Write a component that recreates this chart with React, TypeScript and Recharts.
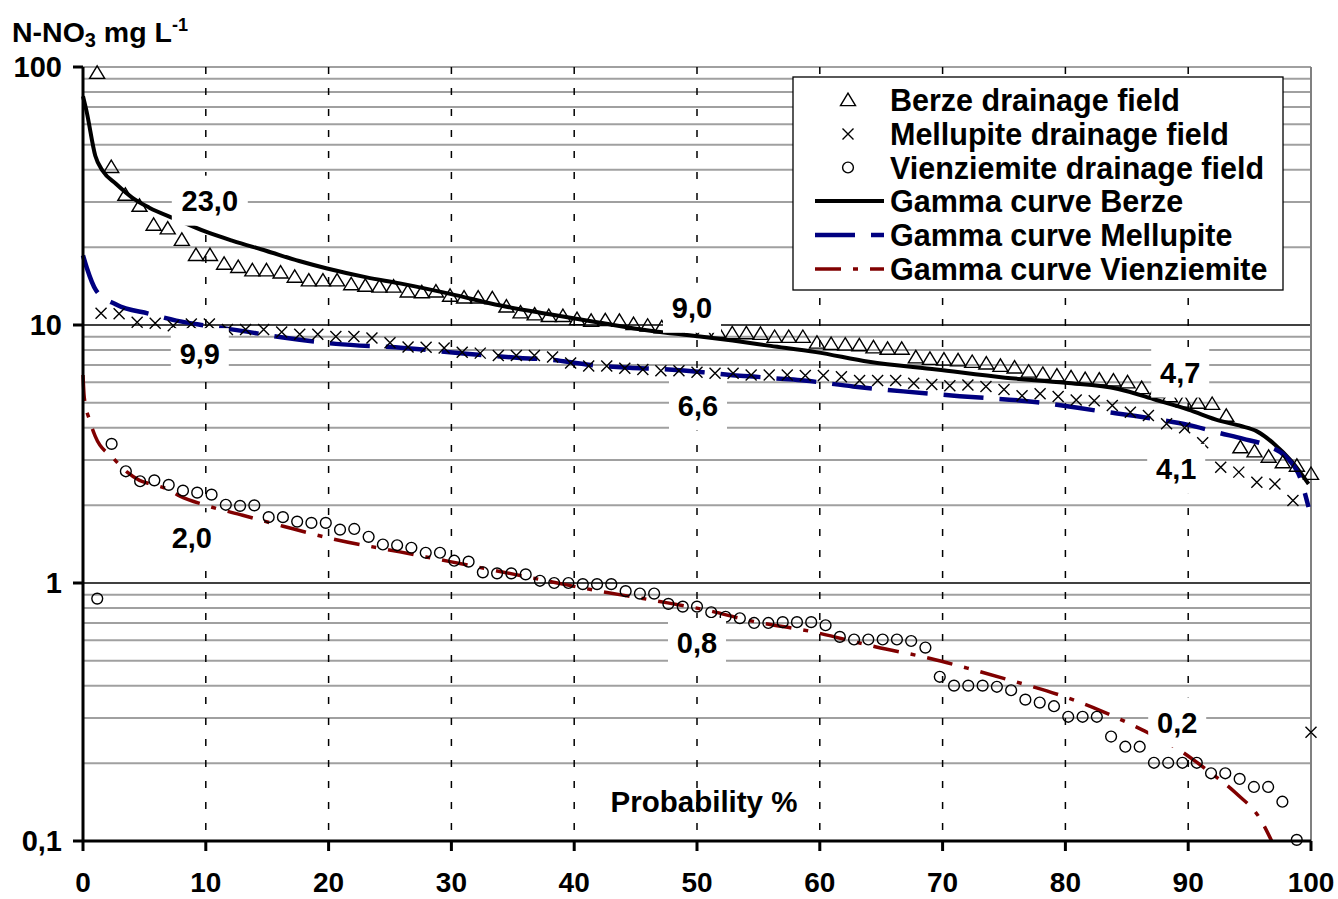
import React from 'react';
import { ComposedChart, Line, Scatter, XAxis, YAxis, CartesianGrid } from 'recharts';

const FONT = '"Liberation Sans", Arial, Helvetica, sans-serif';

// ---------- observed data (probability %, N-NO3 mg/L) ----------
const berzeP = [1.15, 2.30, 3.45, 4.60, 5.75, 6.90, 8.05, 9.20, 10.34, 11.49, 12.64, 13.79, 14.94, 16.09, 17.24, 18.39, 19.54, 20.69, 21.84, 22.99, 24.14, 25.29, 26.44, 27.59, 28.74, 29.89, 31.03, 32.18, 33.33, 34.48, 35.63, 36.78, 37.93, 39.08, 40.23, 41.38, 42.53, 43.68, 44.83, 45.98, 47.13, 48.28, 49.43, 50.57, 51.72, 52.87, 54.02, 55.17, 56.32, 57.47, 58.62, 59.77, 60.92, 62.07, 63.22, 64.37, 65.52, 66.67, 67.82, 68.97, 70.11, 71.26, 72.41, 73.56, 74.71, 75.86, 77.01, 78.16, 79.31, 80.46, 81.61, 82.76, 83.91, 85.06, 86.21, 87.36, 88.51, 89.66, 90.80, 91.95, 93.10, 94.25, 95.40, 96.55, 97.70, 98.85, 100];
const berzeV = [95, 41, 32, 29, 24.5, 23.7, 21.4, 18.7, 18.7, 17.3, 16.8, 16.3, 16.3, 16.0, 15.4, 14.9, 14.9, 14.9, 14.4, 14.2, 14.1, 14.1, 13.5, 13.4, 13.5, 13.0, 12.8, 12.8, 12.7, 11.8, 11.2, 11.0, 10.85, 10.85, 10.55, 10.4, 10.45, 10.4, 10.1, 9.95, 9.8, 9.7, 9.6, 9.5, 9.4, 9.3, 9.3, 9.25, 9.0, 9.0, 9.0, 8.55, 8.45, 8.4, 8.35, 8.2, 8.1, 8.1, 7.5, 7.4, 7.35, 7.3, 7.2, 7.1, 6.95, 6.85, 6.6, 6.47, 6.38, 6.28, 6.18, 6.15, 6.1, 6.0, 5.7, 5.5, 5.3, 5.05, 5.0, 4.95, 4.45, 3.36, 3.24, 3.09, 2.94, 2.85, 2.65];

const mellupiteP = [1.47, 2.94, 4.41, 5.88, 7.35, 8.82, 10.29, 11.76, 13.24, 14.71, 16.18, 17.65, 19.12, 20.59, 22.06, 23.53, 25.00, 26.47, 27.94, 29.41, 30.88, 32.35, 33.82, 35.29, 36.76, 38.24, 39.71, 41.18, 42.65, 44.12, 45.59, 47.06, 48.53, 50.00, 51.47, 52.94, 54.41, 55.88, 57.35, 58.82, 60.29, 61.76, 63.24, 64.71, 66.18, 67.65, 69.12, 70.59, 72.06, 73.53, 75.00, 76.47, 77.94, 79.41, 80.88, 82.35, 83.82, 85.29, 86.76, 88.24, 89.71, 91.18, 92.65, 94.12, 95.59, 97.06, 98.53, 100];
const mellupiteV = [11.1, 11.05, 10.25, 10.15, 9.94, 10.1, 10.1, 9.6, 9.6, 9.6, 9.4, 9.2, 9.2, 9.02, 9.02, 8.9, 8.53, 8.22, 8.2, 8.15, 7.84, 7.78, 7.62, 7.62, 7.62, 7.52, 7.12, 6.94, 6.94, 6.8, 6.72, 6.65, 6.65, 6.56, 6.5, 6.5, 6.4, 6.4, 6.4, 6.37, 6.37, 6.3, 6.09, 6.09, 6.09, 5.95, 5.88, 5.82, 5.85, 5.78, 5.62, 5.32, 5.41, 5.28, 5.12, 5.09, 4.87, 4.59, 4.46, 4.14, 4.0, 3.5, 2.81, 2.69, 2.46, 2.42, 2.09, 0.264];

const vienziemiteP = [1.16, 2.33, 3.49, 4.65, 5.81, 6.98, 8.14, 9.30, 10.47, 11.63, 12.79, 13.95, 15.12, 16.28, 17.44, 18.60, 19.77, 20.93, 22.09, 23.26, 24.42, 25.58, 26.74, 27.91, 29.07, 30.23, 31.40, 32.56, 33.72, 34.88, 36.05, 37.21, 38.37, 39.53, 40.70, 41.86, 43.02, 44.19, 45.35, 46.51, 47.67, 48.84, 50.00, 51.16, 52.33, 53.49, 54.65, 55.81, 56.98, 58.14, 59.30, 60.47, 61.63, 62.79, 63.95, 65.12, 66.28, 67.44, 68.60, 69.77, 70.93, 72.09, 73.26, 74.42, 75.58, 76.74, 77.91, 79.07, 80.23, 81.40, 82.56, 83.72, 84.88, 86.05, 87.21, 88.37, 89.53, 90.70, 91.86, 93.02, 94.19, 95.35, 96.51, 97.67, 98.84];
const vienziemiteV = [0.87, 3.46, 2.71, 2.48, 2.5, 2.4, 2.28, 2.24, 2.2, 2.01, 1.99, 2.0, 1.8, 1.8, 1.73, 1.71, 1.71, 1.61, 1.62, 1.51, 1.41, 1.4, 1.37, 1.31, 1.31, 1.22, 1.21, 1.1, 1.09, 1.09, 1.08, 1.02, 1.0, 1.0, 0.99, 0.99, 0.99, 0.93, 0.91, 0.91, 0.83, 0.81, 0.81, 0.77, 0.74, 0.73, 0.70, 0.70, 0.705, 0.705, 0.705, 0.686, 0.618, 0.604, 0.604, 0.604, 0.604, 0.596, 0.562, 0.433, 0.40, 0.40, 0.40, 0.396, 0.384, 0.353, 0.344, 0.333, 0.303, 0.303, 0.303, 0.254, 0.232, 0.232, 0.201, 0.201, 0.201, 0.201, 0.183, 0.183, 0.174, 0.162, 0.162, 0.142, 0.101];

// ---------- fitted gamma curves ----------
const gammaBerzeP = [0, 0.3, 1.0, 1.6, 2.7, 4.0, 5.4, 7.5, 10, 12.2, 14.9, 17.6, 19.8, 23.1, 25.8, 29.9, 34, 38, 42.1, 46.2, 50, 52.9, 56, 59.7, 64, 69.5, 75.1, 80, 84.3, 87.4, 90, 92.6, 94.3, 95.6, 97.0, 98.4, 99.8];
const gammaBerzeV = [77, 67, 45.3, 39.6, 35.2, 31.2, 28.5, 25.8, 23.0, 21.2, 19.4, 17.7, 16.6, 15.3, 14.5, 13.2, 11.9, 11.0, 10.2, 9.5, 9.05, 8.7, 8.3, 7.85, 7.2, 6.72, 6.25, 5.97, 5.65, 5.12, 4.7, 4.25, 4.06, 3.87, 3.46, 2.97, 2.42];

const gammaMellupiteP = [0, 0.3, 1.07, 2.7, 5.4, 7.6, 10, 12.8, 16.3, 20.6, 26.1, 31.2, 35.6, 38.3, 41, 44.5, 47, 50.5, 52.7, 54.6, 56.8, 58.7, 62.7, 66.8, 71.4, 77.7, 82.5, 87.7, 90, 92.6, 94.5, 96.4, 98, 99.1, 99.8];
const gammaMellupiteV = [18.6, 16.7, 13.6, 12.0, 11.05, 10.4, 9.95, 9.51, 8.94, 8.45, 8.15, 7.74, 7.45, 7.32, 7.03, 6.83, 6.75, 6.56, 6.4, 6.31, 6.19, 6.09, 5.78, 5.53, 5.3, 5.02, 4.66, 4.29, 4.1, 3.81, 3.62, 3.41, 3.07, 2.57, 1.97];

const gammaVienziemiteP = [0, 0.1, 0.55, 1.0, 2.45, 3.6, 4.6, 5.5, 6.8, 7.9, 10, 13, 16.3, 20.4, 25.8, 29.9, 36, 41, 46.4, 50.5, 54.6, 59.2, 64.6, 69, 72, 75.5, 79.6, 82.8, 86.3, 89.3, 91.5, 93.9, 95.9, 96.8];
const gammaVienziemiteV = [6.4, 5.25, 4.26, 3.7, 3.05, 2.69, 2.5, 2.42, 2.32, 2.17, 2.0, 1.83, 1.66, 1.48, 1.32, 1.21, 1.06, 0.95, 0.857, 0.79, 0.71, 0.65, 0.565, 0.51, 0.468, 0.42, 0.367, 0.321, 0.269, 0.225, 0.189, 0.153, 0.121, 0.1];

// ---------- curve value labels ----------
const curveLabelP = [10, 10, 10, 50, 50, 50, 90, 90, 90];
const curveLabelV = [23.0, 9.9, 2.0, 9.0, 6.6, 0.8, 4.7, 4.1, 0.2];
const curveLabelText = ['23,0', '9,9', '2,0', '9,0', '6,6', '0,8', '4,7', '4,1', '0,2'];

// ---------- axes ----------
const xTicks = [0, 10, 20, 30, 40, 50, 60, 70, 80, 90, 100];
const yTicks = [0.1, 1, 10, 100];
const yTickLabels = ['0,1', '1', '10', '100'];
const minorGridValues = [0.2, 0.3, 0.4, 0.5, 0.6, 0.7, 0.8, 0.9, 2, 3, 4, 5, 6, 7, 8, 9, 20, 30, 40, 50, 60, 70, 80, 90, 100];
const majorGridValues = [1, 10];
const verticalGridValues = [10, 20, 30, 40, 50, 60, 70, 80, 90];
const borderGridValues = [100];

const legendNames = [
  'Berze drainage field',
  'Mellupite drainage field',
  'Vienziemite drainage field',
  'Gamma curve Berze',
  'Gamma curve Mellupite',
  'Gamma curve Vienziemite',
];

// ---------- layout / style (not data) ----------
const labelOffsets: [number, number][] = [
  [4, -31], [-6, 27], [-14, 32], [-5, -29], [1, 34], [0, 35], [-8, -37], [-12, 44], [-11, -41],
];
const BLUE = '#000080';
const RED = '#800000';
const BLUE_DASH = '40 16';
const RED_DASH = '26 12 5 12';

const toPts = (ps: number[], vs: number[]) => ps.map((p, i) => ({ p, v: vs[i] }));
const berzeData = toPts(berzeP, berzeV);
const mellupiteData = toPts(mellupiteP, mellupiteV);
const vienziemiteData = toPts(vienziemiteP, vienziemiteV);
const gammaBerzeData = toPts(gammaBerzeP, gammaBerzeV);
const gammaMellupiteData = toPts(gammaMellupiteP, gammaMellupiteV);
const gammaVienziemiteData = toPts(gammaVienziemiteP, gammaVienziemiteV);
const labelData = curveLabelP.map((p, i) => ({ p, v: curveLabelV[i], t: curveLabelText[i], k: i }));

const Tri = ({ cx, cy }: { cx: number; cy: number }) => (
  <path d={`M${cx},${cy - 6.8}L${cx + 7.5},${cy + 5.6}L${cx - 7.5},${cy + 5.6}Z`} fill="none" stroke="#000" strokeWidth={1.4} />
);
const Cross = ({ cx, cy }: { cx: number; cy: number }) => (
  <path d={`M${cx - 5.5},${cy - 5.5}L${cx + 5.5},${cy + 5.5}M${cx + 5.5},${cy - 5.5}L${cx - 5.5},${cy + 5.5}`} fill="none" stroke="#000" strokeWidth={1.4} />
);
const Circ = ({ cx, cy }: { cx: number; cy: number }) => (
  <circle cx={cx} cy={cy} r={5.4} fill="none" stroke="#000" strokeWidth={1.4} />
);

const triShape = (props: any) => (props.cx == null ? <g /> : <Tri cx={props.cx} cy={props.cy} />);
const crossShape = (props: any) => (props.cx == null ? <g /> : <Cross cx={props.cx} cy={props.cy} />);
const circShape = (props: any) => (props.cx == null ? <g /> : <Circ cx={props.cx} cy={props.cy} />);

const labelShape = (props: any) => {
  const { cx, cy, payload } = props;
  if (cx == null || !payload) return <g />;
  const [dx, dy] = labelOffsets[payload.k];
  const x = cx + dx;
  const y = cy + dy;
  const w = payload.t.length >= 4 ? 76 : 58;
  return (
    <g>
      <rect x={x - w / 2} y={y - 25} width={w} height={50} fill="#fff" />
      <text x={x} y={y + 10.4} textAnchor="middle" fontFamily={FONT} fontWeight="bold" fontSize={29} fill="#000">
        {payload.t}
      </text>
    </g>
  );
};

const xTickStyle = { fill: '#000', fontSize: 28, fontWeight: 'bold', fontFamily: FONT };
const yTickStyle = { fill: '#000', fontSize: 29, fontWeight: 'bold', fontFamily: FONT };

const Legend = () => {
  const rows = [100, 134, 167.5, 201, 235, 269];
  const mx = 848;
  return (
    <g>
      <rect x={793} y={77} width={490} height={213} fill="#fff" stroke="#000" strokeWidth={1.3} />
      <Tri cx={mx} cy={rows[0]} />
      <Cross cx={mx} cy={rows[1]} />
      <Circ cx={mx} cy={rows[2]} />
      <line x1={815} x2={884} y1={rows[3]} y2={rows[3]} stroke="#000" strokeWidth={4} />
      <line x1={815} x2={884} y1={rows[4]} y2={rows[4]} stroke={BLUE} strokeWidth={4.5} strokeDasharray={BLUE_DASH} />
      <line x1={815} x2={884} y1={rows[5]} y2={rows[5]} stroke={RED} strokeWidth={3.5} strokeDasharray={RED_DASH} />
      {legendNames.map((n, i) => (
        <text key={n} x={890} y={rows[i] + 11} fontFamily={FONT} fontWeight="bold" fontSize={30.5} fill="#000">
          {n}
        </text>
      ))}
    </g>
  );
};

export default function App() {
  return (
    <div style={{ position: 'absolute', left: 0, top: 0, width: 1338, height: 899, background: '#fff' }}>
      <ComposedChart width={1338} height={899} margin={{ top: 67, right: 27, bottom: 8, left: 0 }}>
        <CartesianGrid vertical={false} horizontalValues={minorGridValues} stroke="#a0a0a0" strokeWidth={2} />
        <CartesianGrid vertical={false} horizontalValues={majorGridValues} stroke="#000" strokeWidth={1.5} />
        <CartesianGrid horizontal={false} verticalValues={verticalGridValues} stroke="#000" strokeWidth={1.5} strokeDasharray="7 14" />
        <CartesianGrid horizontal={false} verticalValues={borderGridValues} stroke="#808080" strokeWidth={2} />
        <XAxis
          type="number"
          dataKey="p"
          domain={[0, 100]}
          ticks={xTicks}
          interval={0}
          height={50}
          tickSize={10}
          tickMargin={21}
          tick={xTickStyle}
          axisLine={{ stroke: '#000', strokeWidth: 3 }}
          tickLine={{ stroke: '#000', strokeWidth: 3 }}
        />
        <YAxis
          type="number"
          dataKey="v"
          scale="log"
          domain={[0.1, 100]}
          ticks={yTicks}
          interval={0}
          width={83}
          tickSize={10}
          tickMargin={11}
          tick={yTickStyle}
          tickFormatter={(v: number) => yTickLabels[yTicks.indexOf(v)] ?? String(v)}
          axisLine={{ stroke: '#000', strokeWidth: 3 }}
          tickLine={{ stroke: '#000', strokeWidth: 3 }}
        />
        <Line data={gammaBerzeData} dataKey="v" type="monotone" stroke="#000" strokeWidth={4} dot={false} activeDot={false} isAnimationActive={false} />
        <Line data={gammaMellupiteData} dataKey="v" type="monotone" stroke={BLUE} strokeWidth={4.5} strokeDasharray={BLUE_DASH} dot={false} activeDot={false} isAnimationActive={false} />
        <Line data={gammaVienziemiteData} dataKey="v" type="monotone" stroke={RED} strokeWidth={3.5} strokeDasharray={RED_DASH} dot={false} activeDot={false} isAnimationActive={false} />
        <Scatter data={berzeData} dataKey="v" shape={triShape} isAnimationActive={false} />
        <Scatter data={mellupiteData} dataKey="v" shape={crossShape} isAnimationActive={false} />
        <Scatter data={vienziemiteData} dataKey="v" shape={circShape} isAnimationActive={false} />
        <Scatter data={labelData} dataKey="v" shape={labelShape} isAnimationActive={false} />
      </ComposedChart>
      <svg width={1338} height={899} style={{ position: 'absolute', left: 0, top: 0, pointerEvents: 'none' }}>
        <text x={12} y={42} fontFamily={FONT} fontWeight="bold" fontSize={28.5} fill="#000">
          N-NO
          <tspan fontSize={20} dy={5}>3</tspan>
          <tspan dy={-5}> mg L</tspan>
          <tspan fontSize={18} dy={-11}>-1</tspan>
        </text>
        <text x={704} y={812} textAnchor="middle" fontFamily={FONT} fontWeight="bold" fontSize={29.5} fill="#000">
          Probability %
        </text>
        <Legend />
      </svg>
    </div>
  );
}
